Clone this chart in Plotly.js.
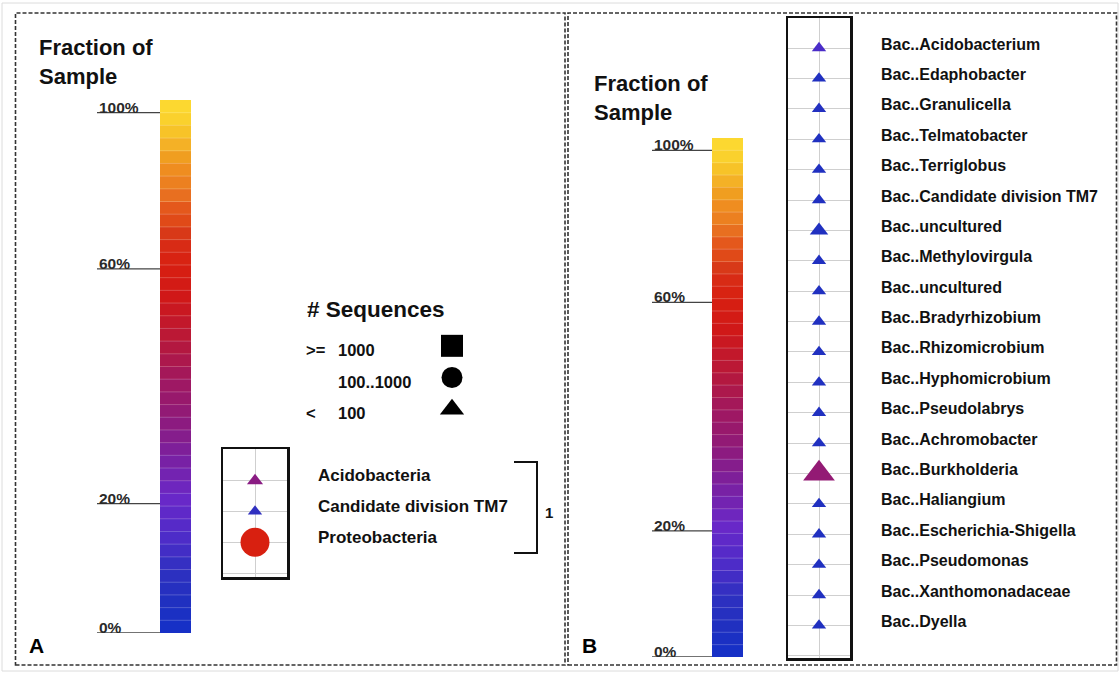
<!DOCTYPE html>
<html><head><meta charset="utf-8">
<script src="https://cdn.plot.ly/plotly-3.0.1.min.js"></script>
<style>html,body{margin:0;padding:0;background:#fff}#chart{width:1120px;height:673px}</style>
</head><body><div id="chart"></div>
<script>
// ---------------- data ----------------
const fractionTicks = [0, 20, 60, 100];
const fractionTickLabels = ['0%', '20%', '60%', '100%'];

// colour scale: fraction of sample (%) -> colour
const scaleFractions = [0, 5, 10, 14, 21, 28, 35, 41, 48, 55, 61, 65, 69, 72, 76, 79, 82, 86, 89, 93, 96, 100, 103];
const scaleColors = ['#1530c8', '#2030c0', '#3030c0', '#4a2cc8', '#6a28c8', '#7a20a0', '#901a78', '#a01860', '#b81838', '#d01818', '#d82010', '#d82814', '#d83818', '#e04818', '#e45a1c', '#e87020', '#ec8020', '#f09020', '#f0a020', '#f5b828', '#f8c828', '#fcd830', '#fcd830'];

// panel A: phyla
const phylaA = ['Acidobacteria', 'Candidate division TM7', 'Proteobacteria'];
const fractionA = [33, 10, 61];
const sequencesA = [9, 5, 110];
const bracketLabelA = '1';

// panel B: genera
const generaB = ['Bac..Acidobacterium', 'Bac..Edaphobacter', 'Bac..Granulicella', 'Bac..Telmatobacter', 'Bac..Terriglobus',
  'Bac..Candidate division TM7', 'Bac..uncultured', 'Bac..Methylovirgula', 'Bac..uncultured', 'Bac..Bradyrhizobium',
  'Bac..Rhizomicrobium', 'Bac..Hyphomicrobium', 'Bac..Pseudolabrys', 'Bac..Achromobacter', 'Bac..Burkholderia',
  'Bac..Haliangium', 'Bac..Escherichia-Shigella', 'Bac..Pseudomonas', 'Bac..Xanthomonadaceae', 'Bac..Dyella'];
const fractionB = [14, 5, 6, 5, 5, 5, 5, 5, 5, 5, 5, 5, 5, 5, 36, 5, 5, 5, 5, 5];
const sequencesB = [5, 5, 5, 5, 5, 5, 16, 5, 5, 5, 5, 5, 5, 5, 95, 5, 5, 5, 5, 5];

// legend: number of sequences
const seqClassOps = ['>=', '', '<'];
const seqClassNums = ['1000', '100..1000', '100'];
const seqClassSymbols = ['square', 'circle', 'triangle-up'];

// ---------------- layout helpers ----------------
const W = 1120, H = 673;
const px = x => x / W;
const py = y => 1 - y / H;
const FONT = 'Liberation Sans, Arial, Helvetica, sans-serif';
const nBands = 42;
const tickBandPos = [0, 10.2, 28.7, 41];     // where the tick fractions sit along the bar (band units)

function interp(v, xs, ys) {
  if (v <= xs[0]) return ys[0];
  for (let i = 1; i < xs.length; i++) {
    if (v <= xs[i]) return ys[i - 1] + (ys[i] - ys[i - 1]) * (v - xs[i - 1]) / (xs[i] - xs[i - 1]);
  }
  return ys[ys.length - 1];
}
const fmax = scaleFractions[scaleFractions.length - 1];
const colorscale = scaleFractions.map((f, i) => [f / fmax, scaleColors[i]]);
const bandY = Array.from({length: nBands}, (_, i) => i + 0.5);
const bandFrac = bandY.map(b => interp(b, tickBandPos.concat([nBands]), fractionTicks.concat([fmax])));

const symbolFor = n => n >= 1000 ? 'square' : (n >= 100 ? 'circle' : 'triangle-up');
const sizeFor = n => 8 + 2 * Math.sqrt(n);

const traces = [];
// colour bars
[['x', 'y'], ['x2', 'y2']].forEach(([xa, ya]) => {
  traces.push({type: 'heatmap', x: [0], y: bandY, z: bandFrac.map(f => [f]), colorscale: colorscale,
    zmin: 0, zmax: fmax, showscale: false, hoverinfo: 'skip', xaxis: xa, yaxis: ya});
});
// panel A markers
traces.push({type: 'scatter', mode: 'markers', x: phylaA.map(() => 0), y: phylaA.map((_, i) => i),
  text: phylaA, xaxis: 'x3', yaxis: 'y3', cliponaxis: false,
  marker: {symbol: sequencesA.map(symbolFor), size: sequencesA.map(sizeFor), color: fractionA, opacity: 1,
    colorscale: colorscale, cmin: 0, cmax: fmax, line: {width: 0}}});
// panel B markers
traces.push({type: 'scatter', mode: 'markers', x: generaB.map(() => 0), y: generaB.map((_, i) => i),
  text: generaB, xaxis: 'x4', yaxis: 'y4', cliponaxis: false,
  marker: {symbol: sequencesB.map(symbolFor), size: sequencesB.map(sizeFor), color: fractionB, opacity: 1,
    colorscale: colorscale, cmin: 0, cmax: fmax, line: {width: 0}}});
// sequence legend symbols
traces.push({type: 'scatter', mode: 'markers', x: seqClassSymbols.map(() => 0), y: seqClassSymbols.map((_, i) => i),
  xaxis: 'x5', yaxis: 'y5', cliponaxis: false, hoverinfo: 'skip',
  marker: {symbol: seqClassSymbols, size: [22, 21, 21], color: '#000', opacity: 1, line: {width: 0}}});

const hidden = (d, r, a) => ({domain: d, range: r, anchor: a, visible: false, fixedrange: true});
const boxX = (d, a) => ({domain: d, range: [-1, 1], anchor: a, showgrid: true, gridcolor: '#cfcfcf', gridwidth: 1, tickvals: [0],
  showticklabels: false, ticks: '', zeroline: false, showline: true, mirror: true, linecolor: '#111', linewidth: 2.5, fixedrange: true});
const boxY = (d, r, n, a) => ({domain: d, range: r, anchor: a, showgrid: true, gridcolor: '#cfcfcf', gridwidth: 1,
  tickvals: Array.from({length: n + 2}, (_, i) => i - 1), showticklabels: false, ticks: '', zeroline: false,
  showline: true, mirror: true, linecolor: '#111', linewidth: 2.5, fixedrange: true});

const shapes = [];
const annotations = [];
// panel frames
shapes.push({type: 'rect', xref: 'paper', yref: 'paper', x0: px(2), x1: px(1118), y0: py(671), y1: py(3),
  line: {color: '#dcdcdc', width: 1}});
shapes.push({type: 'rect', xref: 'paper', yref: 'paper', x0: px(15.5), x1: px(565), y0: py(665), y1: py(13),
  line: {color: '#333', width: 1.6, dash: '4px,2px'}});
shapes.push({type: 'rect', xref: 'paper', yref: 'paper', x0: px(568), x1: px(1116.5), y0: py(665), y1: py(13),
  line: {color: '#333', width: 1.6, dash: '4px,2px'}});

// colour bar decoration: band separators, tick lines, tick labels
[['x', 'y', 97, 160], ['x2', 'y2', 652, 712]].forEach(([xa, ya, lx, bx]) => {
  for (let i = 1; i < nBands; i++) {
    shapes.push({type: 'line', xref: xa, yref: ya, x0: -0.5, x1: 0.5, y0: i, y1: i,
      line: {color: 'rgba(255,255,255,0.22)', width: 1}});
  }
  fractionTicks.forEach((f, i) => {
    shapes.push({type: 'line', xref: 'paper', yref: ya, x0: px(lx), x1: px(bx), y0: tickBandPos[i], y1: tickBandPos[i],
      line: {color: '#444', width: 1.3}});
    annotations.push({xref: 'paper', yref: ya, x: px(lx + 1), y: tickBandPos[i], xanchor: 'left', yanchor: 'bottom',
      yshift: -4, borderpad: 0, showarrow: false, text: fractionTickLabels[i],
      font: {family: FONT, size: 15.5, weight: 600, color: '#2a2a2a'}});
  });
});

// titles
[[37, 61.5], [592, 98]].forEach(([x, y]) => {
  annotations.push({xref: 'paper', yref: 'paper', x: px(x), y: py(y), xanchor: 'left', yanchor: 'middle', align: 'left',
    showarrow: false, text: 'Fraction of<br>Sample', font: {family: FONT, size: 22, weight: 700, color: '#111'}});
});

// sequences legend
annotations.push({xref: 'paper', yref: 'paper', x: px(305), y: py(310), xanchor: 'left', yanchor: 'middle',
  showarrow: false, text: '# Sequences', font: {family: FONT, size: 22.5, weight: 700, color: '#111'}});
seqClassOps.forEach((op, i) => {
  if (op) annotations.push({xref: 'paper', yref: 'y5', x: px(304), y: i, yshift: -4, xanchor: 'left', yanchor: 'middle',
    showarrow: false, text: op.replace('<', '&lt;').replace('>', '&gt;'), font: {family: FONT, size: 16.5, weight: 700, color: '#111'}});
  annotations.push({xref: 'paper', yref: 'y5', x: px(336), y: i, yshift: -4, xanchor: 'left', yanchor: 'middle',
    showarrow: false, text: seqClassNums[i], font: {family: FONT, size: 16.5, weight: 700, color: '#111'}});
});

// panel A labels and bracket
phylaA.forEach((name, i) => {
  annotations.push({xref: 'paper', yref: 'y3', x: px(316), y: i, yshift: 5, xanchor: 'left', yanchor: 'middle',
    showarrow: false, text: name, font: {family: FONT, size: 17, weight: 700, color: '#111'}});
});
shapes.push({type: 'path', xref: 'paper', yref: 'paper',
  path: `M ${px(514)},${py(462)} L ${px(537)},${py(462)} L ${px(537)},${py(553)} L ${px(514)},${py(553)}`,
  line: {color: '#111', width: 2}});
annotations.push({xref: 'paper', yref: 'paper', x: px(543), y: py(512), xanchor: 'left', yanchor: 'middle',
  showarrow: false, text: bracketLabelA, font: {family: FONT, size: 15, weight: 700, color: '#111'}});

// panel B labels
generaB.forEach((name, i) => {
  annotations.push({xref: 'paper', yref: 'y4', x: px(879), y: i, yshift: 4, xanchor: 'left', yanchor: 'middle',
    showarrow: false, text: name, font: {family: FONT, size: 16, weight: 700, color: '#111'}});
});

// panel letters
[['A', 27], ['B', 580]].forEach(([t, x]) => {
  annotations.push({xref: 'paper', yref: 'paper', x: px(x), y: py(645), xanchor: 'left', yanchor: 'middle',
    showarrow: false, text: t, font: {family: FONT, size: 21, weight: 700, color: '#000'}});
});

const layout = {
  width: W, height: H, autosize: false, margin: {l: 0, r: 0, t: 0, b: 0, pad: 0},
  paper_bgcolor: '#fff', plot_bgcolor: 'rgba(0,0,0,0)', showlegend: false, hovermode: false,
  font: {family: FONT},
  xaxis: hidden([px(160), px(191)], [-0.5, 0.5], 'y'),
  yaxis: hidden([py(633), py(100)], [0, nBands], 'x'),
  xaxis2: hidden([px(712), px(743)], [-0.5, 0.5], 'y2'),
  yaxis2: hidden([py(657), py(138)], [0, nBands], 'x2'),
  xaxis3: boxX([px(223), px(287)], 'y3'),
  yaxis3: boxY([py(577), py(449)], [3.13, -1.03], phylaA.length, 'x3'),
  xaxis4: boxX([px(788), px(850)], 'y4'),
  yaxis4: boxY([py(658), py(18)], [20.07, -0.99], generaB.length, 'x4'),
  xaxis5: hidden([px(441), px(463)], [-1, 1], 'y5'),
  yaxis5: hidden([py(425), py(330)], [2.5, -0.5], 'x5'),
  shapes: shapes,
  annotations: annotations
};

Plotly.newPlot('chart', traces, layout, {staticPlot: true, displayModeBar: false});
</script>
</body></html>
